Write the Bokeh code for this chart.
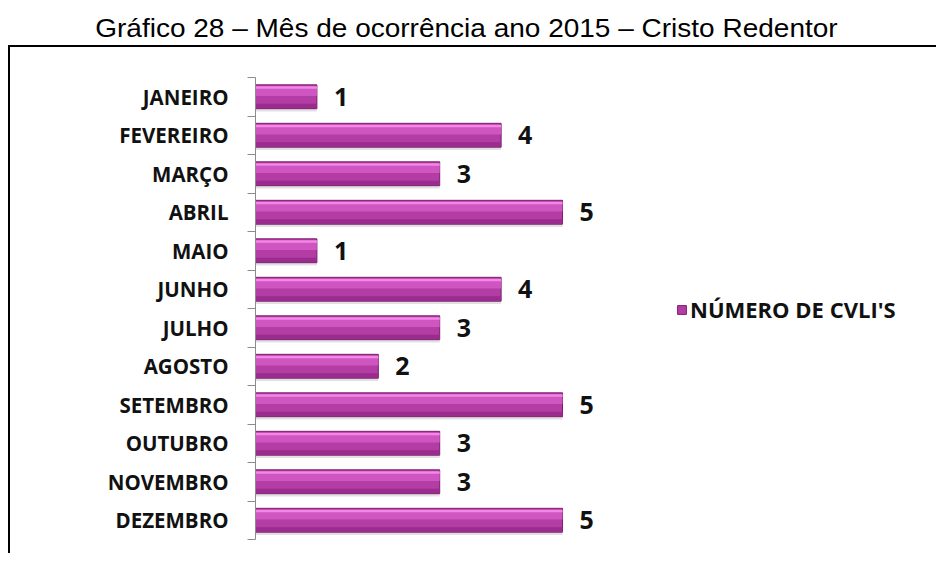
from bokeh.plotting import figure
from bokeh.models import (Range1d, LinearAxis, FixedTicker, ColumnDataSource, Legend, LegendItem, Div)
from bokeh.transform import dodge
from bokeh.layouts import column
from bokeh.core.properties import value
from bokeh.embed import file_html
from bokeh.resources import INLINE

# ---- data ----
months = ["JANEIRO", "FEVEREIRO", "MARÇO", "ABRIL", "MAIO", "JUNHO", "JULHO",
          "AGOSTO", "SETEMBRO", "OUTUBRO", "NOVEMBRO", "DEZEMBRO"]
counts = [1, 4, 3, 5, 1, 4, 3, 2, 5, 3, 3, 5]
series_name = "NÚMERO DE CVLI'S"
title_text = "Gráfico 28 – Mês de ocorrência ano 2015 – Cristo Redentor"

n = len(months)
ypos = [n - i - 0.5 for i in range(n)]  # first month on top
src = ColumnDataSource(dict(y=ypos, month=months, count=counts, label=[str(c) for c in counts]))

LABEL_FONT = "Open Sans"

title = Div(text='<span style="display:inline-block;transform:scaleX(1.12)">%s</span>' % title_text,
            width=930, height=35,
            styles={"font-family": "Liberation Sans, Arial, sans-serif", "font-size": "25px",
                    "text-align": "center", "color": "#000", "line-height": "46px",
                    "width": "918px", "padding-right": "12px", "white-space": "nowrap"})

p = figure(width=928, height=508, output_backend="svg", toolbar_location=None,
           y_range=Range1d(0, n), x_range=Range1d(0, 10.96),
           x_axis_location=None, y_axis_location=None,
           min_border_left=245, min_border_right=10, min_border_top=30, min_border_bottom=16)
p.styles = {"border-left": "2px solid #000", "border-top": "2px solid #000"}
p.outline_line_color = None
p.grid.visible = False
p.background_fill_color = "white"
p.border_fill_color = "white"

# category axis: labels at bar centres, (minor) ticks at category boundaries, Excel style
cat_axis = LinearAxis(ticker=FixedTicker(ticks=ypos, minor_ticks=list(range(n + 1))),
                      major_tick_out=0, major_tick_in=0, minor_tick_out=8, minor_tick_in=0,
                      axis_line_color="#8c8c8c", minor_tick_line_color="#8c8c8c",
                      major_label_overrides={y: m for y, m in zip(ypos, months)},
                      major_label_text_font=LABEL_FONT, major_label_text_font_style="bold",
                      major_label_text_font_size="20.5px", major_label_text_color="#111",
                      major_label_standoff=19)
p.add_layout(cat_axis, "left")

H = 0.62
# shadow
p.hbar(y=dodge("y", -0.07), right="count", left=0, height=H,
       source=src, fill_color="#bdbdbd", fill_alpha=0.45, line_color=None)
# main bar
main = p.hbar(y="y", right="count", left=0, height=H, source=src,
              fill_color="#B33DA5", line_color="#7A1E6E", line_width=1)
# upper lighter band
p.hbar(y=dodge("y", 0.14), right="count", left=0, height=0.24,
       source=src, fill_color="#CF55C1", line_color=None)
# top highlight
p.hbar(y=dodge("y", 0.24), right="count", left=0, height=0.07,
       source=src, fill_color="#F287E5", line_color=None)
# bottom darker band
p.hbar(y=dodge("y", -0.24), right="count", left=0, height=0.12,
       source=src, fill_color="#992C8C", line_color=None)

# value labels
p.text(x="count", y="y", text="label", source=src, x_offset=17,
       text_font=value(LABEL_FONT), text_font_style="bold", text_font_size="25px",
       text_baseline="middle", text_align="left", text_color="#111")

legend = Legend(items=[LegendItem(label=series_name, renderers=[main])],
                location=(421, 215), padding=0, margin=0, glyph_width=11, glyph_height=11,
                label_standoff=3, label_height=14, border_line_color=None,
                background_fill_alpha=0, label_text_font=LABEL_FONT,
                label_text_font_style="bold", label_text_font_size="22px",
                label_text_color="#111")
p.add_layout(legend, "center")

layout = column(title, p, spacing=0, margin=(0, 0, 0, 8))
open("out.html", "w").write(file_html(layout, INLINE))
